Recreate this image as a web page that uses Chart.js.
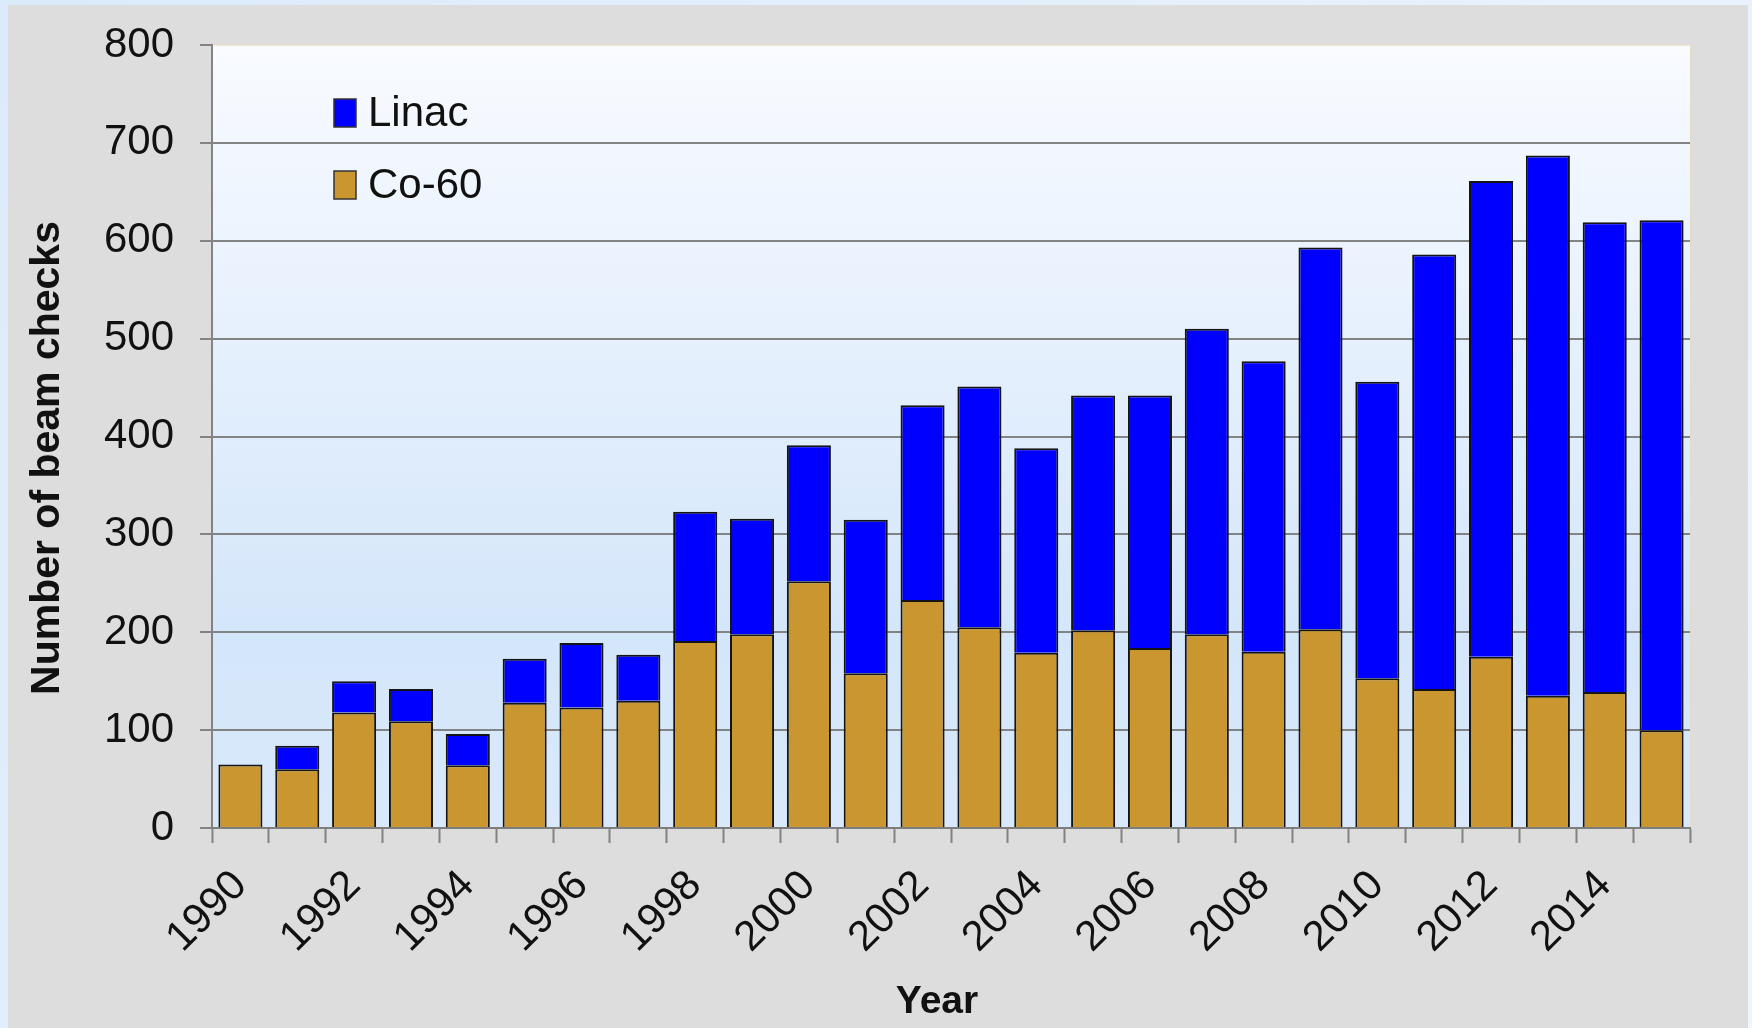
<!DOCTYPE html>
<html>
<head>
<meta charset="utf-8">
<title>Number of beam checks per year</title>
<script src="https://cdn.jsdelivr.net/npm/chart.js@4.4.1/dist/chart.umd.min.js"></script>
<style>
  html, body { margin: 0; padding: 0; background: #e3eefb; overflow: hidden; }
  canvas { display: block; }
</style>
</head>
<body>
<canvas id="chart" width="1752" height="1028"></canvas>
<script>
// Years on the category axis
const years = ['1990','1991','1992','1993','1994','1995','1996','1997','1998','1999',
               '2000','2001','2002','2003','2004','2005','2006','2007','2008','2009',
               '2010','2011','2012','2013','2014','2015'];

// Beam checks per year, by machine type (stacked)
const co60  = [65, 60, 118, 109, 64, 128, 123, 130, 191, 198,
               252, 158, 233, 205, 179, 202, 184, 198, 180, 203,
               153, 142, 175, 135, 139, 100];
const linac = [0, 24, 32, 33, 32, 45, 66, 47, 132, 118,
               139, 157, 199, 246, 209, 240, 258, 312, 297, 390,
               303, 444, 486, 552, 480, 521];

// Value axis
const yMin = 0, yMax = 800, yStep = 100;

const seriesNames  = ['Co-60', 'Linac'];
const seriesColors = ['#CA962F', '#0000FF'];
const axisTitleY = 'Number of beam checks';
const axisTitleX = 'Year';

const FONT = '"Liberation Sans", Arial, Helvetica, sans-serif';
const GRID = 'rgba(125,125,125,0.95)';
const TEXT_SIZE = 42;

// Backgrounds: outer page wash, grey panel, gradient plot area
const backdrop = {
  id: 'backdrop',
  beforeDraw(chart) {
    const { ctx, width, height, chartArea: a } = chart;
    ctx.save();
    const outer = ctx.createLinearGradient(0, 0, width, height);
    outer.addColorStop(0, '#dcebfb');
    outer.addColorStop(1, '#eef5fd');
    ctx.fillStyle = outer;
    ctx.fillRect(0, 0, width, height);

    ctx.fillStyle = '#dddddd';
    ctx.fillRect(8, 5, 1740, height - 5);

    const g = ctx.createLinearGradient(0, a.top, 0, a.bottom);
    g.addColorStop(0, '#f9fbff');
    g.addColorStop(0.35, '#e7f1fd');
    g.addColorStop(0.75, '#d4e6fa');
    g.addColorStop(1, '#d9e9fb');
    ctx.fillStyle = g;
    ctx.fillRect(a.left, a.top, a.right - a.left, a.bottom - a.top);

    // faint warm edge along the top and right of the plot
    ctx.strokeStyle = 'rgba(232,220,195,0.6)';
    ctx.lineWidth = 2;
    ctx.beginPath();
    ctx.moveTo(a.left, a.top);
    ctx.lineTo(a.right + 1, a.top);
    ctx.lineTo(a.right + 1, a.bottom);
    ctx.stroke();
    ctx.restore();
  }
};

// Legend inside the plot and the two axis titles
const annotations = {
  id: 'annotations',
  afterDraw(chart) {
    const { ctx } = chart;
    ctx.save();

    // legend: Linac first, then Co-60
    const order = [1, 0];
    order.forEach((di, row) => {
      const ds = chart.data.datasets[di];
      const cy = 113 + row * 72;
      ctx.fillStyle = ds.backgroundColor;
      ctx.fillRect(334, cy - 14, 22, 28);
      ctx.strokeStyle = '#333';
      ctx.lineWidth = 1.5;
      ctx.strokeRect(334, cy - 14, 22, 28);
      ctx.fillStyle = '#111';
      ctx.font = TEXT_SIZE + 'px ' + FONT;
      ctx.textAlign = 'left';
      ctx.textBaseline = 'middle';
      ctx.fillText(ds.label, 368, cy + 1);
    });

    // y-axis title
    ctx.fillStyle = '#111';
    ctx.font = 'bold 41px ' + FONT;
    ctx.textAlign = 'center';
    ctx.textBaseline = 'middle';
    ctx.translate(48, 458);
    ctx.rotate(-Math.PI / 2);
    ctx.fillText(axisTitleY, 0, 0);
    ctx.setTransform(1, 0, 0, 1, 0, 0);

    // x-axis title
    ctx.font = 'bold 39px ' + FONT;
    ctx.textAlign = 'center';
    ctx.textBaseline = 'middle';
    ctx.fillText(axisTitleX, 937, 1002);
    ctx.restore();
  }
};

new Chart(document.getElementById('chart'), {
  type: 'bar',
  data: {
    labels: years,
    datasets: [
      { label: seriesNames[0], data: co60,  backgroundColor: seriesColors[0],
        borderColor: '#141414', borderWidth: 2 },
      { label: seriesNames[1], data: linac, backgroundColor: seriesColors[1],
        borderColor: '#141414', borderWidth: 2 }
    ]
  },
  options: {
    responsive: false,
    animation: false,
    devicePixelRatio: 1,
    layout: { padding: { left: 0, top: 45, right: 62, bottom: 0 } },
    datasets: { bar: { categoryPercentage: 1.0, barPercentage: 0.775 } },
    plugins: { legend: { display: false }, tooltip: { enabled: false } },
    scales: {
      x: {
        stacked: true,
        offset: true,
        grid: {
          offset: true,
          drawOnChartArea: false,
          drawTicks: true,
          tickLength: 15,
          tickColor: GRID,
          tickWidth: 2
        },
        border: { display: true, color: GRID, width: 2 },
        ticks: {
          autoSkip: false,
          minRotation: 45,
          maxRotation: 45,
          padding: 18,
          color: '#111',
          font: { family: FONT, size: TEXT_SIZE },
          callback: (v, i) => (i % 2 === 0 ? years[i] : '')
        },
        afterFit: (s) => { s.height = 200; }
      },
      y: {
        stacked: true,
        min: yMin,
        max: yMax,
        grid: {
          color: (c) => (c.tick && c.tick.value === yMax ? 'rgba(0,0,0,0)' : GRID),
          lineWidth: 2,
          drawTicks: true,
          tickLength: 12,
          tickColor: GRID,
          tickWidth: 2
        },
        border: { display: true, color: GRID, width: 2 },
        ticks: {
          stepSize: yStep,
          padding: 26,
          color: '#111',
          font: { family: FONT, size: TEXT_SIZE }
        },
        afterFit: (s) => { s.width = 212; s.paddingTop = 0; s.paddingBottom = 0; }
      }
    }
  },
  plugins: [backdrop, annotations]
});
</script>
</body>
</html>
